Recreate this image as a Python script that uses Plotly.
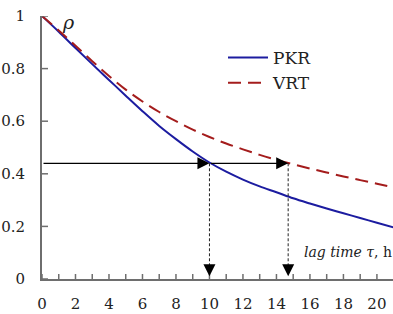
import plotly.graph_objects as go

# Data
tau = [0, 1, 2, 3, 4, 5, 6, 7, 8, 9, 10, 11, 12, 13, 14, 15, 16, 17, 18, 19, 20, 21]
pkr = [1.0, 0.94, 0.878, 0.817, 0.757, 0.697, 0.638, 0.582, 0.532, 0.485, 0.443,
       0.408, 0.378, 0.352, 0.330, 0.307, 0.287, 0.268, 0.250, 0.232, 0.214, 0.196]
vrt = [1.0, 0.945, 0.887, 0.828, 0.772, 0.72, 0.675, 0.635, 0.600, 0.568, 0.540,
       0.515, 0.493, 0.472, 0.453, 0.436, 0.420, 0.405, 0.390, 0.376, 0.362, 0.348]
level = 0.44
cross_tau = [10, 14.7]
x_ticks = list(range(0, 21))
x_labels = list(range(0, 21, 2))
y_ticks = [0, 0.2, 0.4, 0.6, 0.8, 1.0]
y_labels = ["0", "0.2", "0.4", "0.6", "0.8", "1"]

FONT = "DejaVu Serif"
AXIS_COL = "#6e6e6e"

fig = go.Figure()
fig.add_trace(go.Scatter(x=tau, y=pkr, mode="lines", name="PKR",
                         line=dict(color="#1c1ca0", width=2, shape="spline"),
                         cliponaxis=False))
fig.add_trace(go.Scatter(x=tau, y=vrt, mode="lines", name="VRT",
                         line=dict(color="#a41c1c", width=2, dash="13px,7px", shape="spline"),
                         cliponaxis=False))

shapes = []
for t in x_ticks:
    shapes.append(dict(type="line", xref="x", yref="y", x0=t, x1=t,
                       ysizemode="pixel", yanchor=0, y0=-5, y1=5,
                       line=dict(color=AXIS_COL, width=1.5)))
for v in y_ticks:
    shapes.append(dict(type="line", xref="x", yref="y", y0=v, y1=v,
                       xsizemode="pixel", xanchor=0, x0=-5, x1=6,
                       line=dict(color=AXIS_COL, width=1.5)))
for c in cross_tau:
    shapes.append(dict(type="line", xref="x", yref="y", x0=c, x1=c, y0=level, y1=0.03,
                       line=dict(color="#222222", width=1, dash="3px,2px")))

annotations = []
starts = [0] + cross_tau[:-1]
for s, c in zip(starts, cross_tau):
    annotations.append(dict(x=c, y=level, ax=s, ay=level, xref="x", yref="y",
                            axref="x", ayref="y", showarrow=True, arrowhead=2,
                            arrowsize=2, arrowwidth=1.2, arrowcolor="black", text=""))
for c in cross_tau:
    annotations.append(dict(x=c, y=0.01, ax=c, ay=0.05, xref="x", yref="y",
                            axref="x", ayref="y", showarrow=True, arrowhead=2,
                            arrowsize=2, arrowwidth=1.2, arrowcolor="black", text=""))
annotations.append(dict(x=68, y=22, xref="paper", yref="paper", text="<i>ρ</i>",
                        xanchor="center", yanchor="middle",
                        showarrow=False, font=dict(family=FONT, size=19, color="#222")))
annotations.append(dict(x=394, y=252, xref="paper", yref="paper",
                        text="<i>lag time τ</i>, h", showarrow=False, xanchor="right",
                        yanchor="middle",
                        font=dict(family=FONT, size=14, color="#222")))

W, H = 393, 314
L, R, T, B = 42, 0, 16, 35
for a in annotations:
    if a.get("xref") == "paper":
        a["x"] = (a["x"] - L) / (W - L - R)
        a["y"] = (H - B - a["y"]) / (H - T - B)

fig.update_layout(
    width=W, height=H,
    margin=dict(l=L, r=R, t=T, b=B, autoexpand=False),
    plot_bgcolor="white", paper_bgcolor="white",
    shapes=shapes, annotations=annotations,
    legend=dict(x=(223 - L) / (W - L), y=(H - B - 40) / (H - T - B),
                xanchor="left", yanchor="top", bgcolor="rgba(0,0,0,0)",
                font=dict(family=FONT, size=17, color="#222"), itemwidth=40,
                tracegroupgap=0),
    xaxis=dict(range=[0, 20.96], showgrid=False, zeroline=False, showline=True,
               automargin=False,
               linecolor=AXIS_COL, linewidth=2, ticks="", tickvals=x_labels,
               ticktext=[str(v) for v in x_labels], ticklabelstandoff=10,
               tickfont=dict(family=FONT, size=15, color="#222")),
    yaxis=dict(range=[0, 1.0], showgrid=False, zeroline=False, showline=True,
               automargin=False,
               linecolor=AXIS_COL, linewidth=2, ticks="", tickvals=y_ticks,
               ticktext=y_labels, ticklabelstandoff=12,
               tickfont=dict(family=FONT, size=15, color="#222")),
)

fig.write_html("out.html", config={"displayModeBar": False},
               post_script="document.body.style.margin='0';document.body.style.overflow='hidden';")
